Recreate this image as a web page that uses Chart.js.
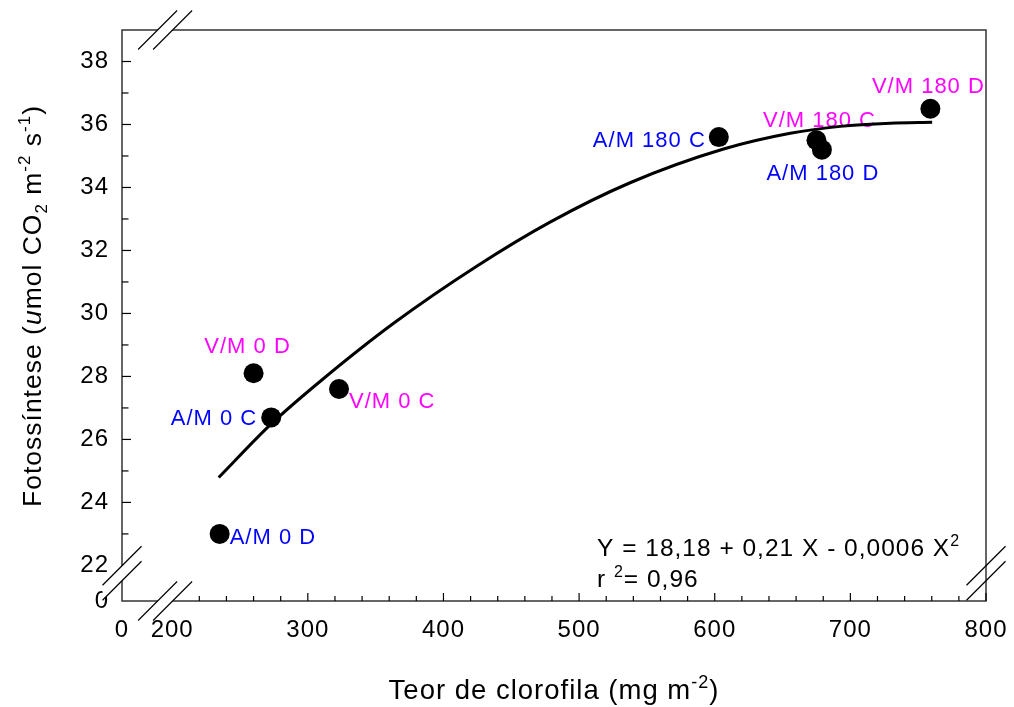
<!DOCTYPE html>
<html>
<head>
<meta charset="utf-8">
<script src="https://cdn.jsdelivr.net/npm/chart.js@4.4.0/dist/chart.umd.min.js"></script>
<style>
  html, body { margin: 0; padding: 0; background: #fff; }
</style>
</head>
<body>
<canvas id="chart" width="1014" height="707"></canvas>
<script>
// data points
const pointNames = ['A/M 0 D', 'V/M 0 D', 'A/M 0 C', 'V/M 0 C', 'A/M 180 C', 'V/M 180 C', 'A/M 180 D', 'V/M 180 D'];
const xValues = [235, 260, 273, 323, 603, 675, 679, 759];
const yValues = [23.0, 28.1, 26.7, 27.6, 35.6, 35.5, 35.2, 36.5];

// fitted curve
const curveX = [234.3, 273.2, 310.1, 363.0, 424.5, 478.6, 537.6, 606.5, 655.7, 692.6, 729.5, 760.3];
const curveY = [24.79, 26.50, 27.88, 29.68, 31.50, 32.90, 34.15, 35.22, 35.72, 35.94, 36.04, 36.07];

// ticks
const xMajorTicks = [200, 300, 400, 500, 600, 700, 800];
const yMajorTicks = [22, 24, 26, 28, 30, 32, 34, 36, 38];
const X_MINOR = 20;
const Y_MINOR = 1;

// broken axes: the left / bottom edge is labelled 0
const X_MIN = 163, X_MAX = 800;
const Y_MIN = 20.87, Y_MAX = 39;

const FONT = '"Liberation Sans", Arial, sans-serif';
const COLOR_A = '#0000ff';
const COLOR_V = '#ff00ff';

// label placement next to each point: dx, dy, align
const labelPlace = [
    [10, 4, 'left'], [-6, -26, 'center'], [-14, 2, 'right'], [10, 13, 'left'],
    [-13, 4, 'right'], [3, -19, 'center'], [1, 24, 'center'], [-2, -22, 'center']
];

function drawRich(ctx, parts, x, y, size, align) {
    const fontOf = p => `${p.italic ? 'italic ' : ''}${p.shift ? Math.round(size * 0.65) : size}px ${FONT}`;
    let total = 0;
    parts.forEach(p => { ctx.font = fontOf(p); total += ctx.measureText(p.t).width; });
    let cx = align === 'center' ? x - total / 2 : x;
    ctx.textAlign = 'left';
    parts.forEach(p => {
        ctx.font = fontOf(p);
        const dy = p.shift === 'sup' ? -size * 0.4 : p.shift === 'sub' ? size * 0.22 : 0;
        ctx.fillText(p.t, cx, y + dy);
        cx += ctx.measureText(p.t).width;
    });
}

function breakMark(ctx, cx, cy, horizontal, fill) {
    const h = 19.5, g = 7.5;
    const c1 = horizontal ? [cx - g, cy] : [cx, cy - g];
    const c2 = horizontal ? [cx + g, cy] : [cx, cy + g];
    if (fill) {
        ctx.fillStyle = '#fff';
        ctx.beginPath();
        ctx.moveTo(c1[0] - h, c1[1] + h);
        ctx.lineTo(c1[0] + h, c1[1] - h);
        ctx.lineTo(c2[0] + h, c2[1] - h);
        ctx.lineTo(c2[0] - h, c2[1] + h);
        ctx.closePath();
        ctx.fill();
    }
    ctx.strokeStyle = '#000';
    ctx.lineWidth = 1.2;
    [c1, c2].forEach(c => {
        ctx.beginPath();
        ctx.moveTo(c[0] - h, c[1] + h);
        ctx.lineTo(c[0] + h, c[1] - h);
        ctx.stroke();
    });
}

const decor = {
    id: 'decor',
    beforeDraw(chart) {
        chart.ctx.letterSpacing = '1px';
    },
    beforeDatasetsDraw(chart) {
        const ctx = chart.ctx;
        const xs = chart.scales.x, ys = chart.scales.y;
        ctx.save();
        ctx.font = `22px ${FONT}`;
        ctx.textBaseline = 'middle';
        pointNames.forEach((name, i) => {
            const [dx, dy, align] = labelPlace[i];
            ctx.fillStyle = name.startsWith('A/M') ? COLOR_A : COLOR_V;
            ctx.textAlign = align;
            ctx.fillText(name, xs.getPixelForValue(xValues[i]) + dx, ys.getPixelForValue(yValues[i]) + dy);
        });
        ctx.restore();
    },
    afterDraw(chart) {
        const ctx = chart.ctx;
        const a = chart.chartArea;
        const xs = chart.scales.x, ys = chart.scales.y;
        ctx.save();

        // frame
        ctx.strokeStyle = '#333';
        ctx.lineWidth = 1.5;
        ctx.strokeRect(a.left, a.top, a.right - a.left, a.bottom - a.top);

        // inward ticks
        ctx.strokeStyle = '#000';
        ctx.lineWidth = 1.2;
        xs.ticks.forEach(t => {
            if (t.value === X_MIN) return;
            const px = xs.getPixelForValue(t.value);
            const len = xMajorTicks.includes(t.value) ? 8 : 5;
            ctx.beginPath();
            ctx.moveTo(px, a.bottom);
            ctx.lineTo(px, a.bottom - len);
            ctx.stroke();
        });
        ys.ticks.forEach(t => {
            if (t.value === Y_MIN) return;
            const py = ys.getPixelForValue(t.value);
            const len = yMajorTicks.includes(t.value) ? 9 : 6.5;
            ctx.beginPath();
            ctx.moveTo(a.left, py);
            ctx.lineTo(a.left + len, py);
            ctx.stroke();
        });

        // axis breaks
        const xb = (a.left + xs.getPixelForValue(200)) / 2 + 18;
        const yb = ys.getPixelForValue(21.75);
        breakMark(ctx, xb, a.bottom, true, true);
        breakMark(ctx, xb, a.top, true, true);
        breakMark(ctx, a.left, yb, false, true);
        breakMark(ctx, a.right, yb, false, false);

        // titles
        ctx.fillStyle = '#000';
        ctx.textBaseline = 'alphabetic';
        drawRich(ctx, [{ t: 'Teor de clorofila (mg m' }, { t: '-2', shift: 'sup' }, { t: ')' }],
            (a.left + a.right) / 2, 699, 27.5, 'center');

        ctx.save();
        ctx.translate(41, 306);
        ctx.rotate(-Math.PI / 2);
        drawRich(ctx, [
            { t: 'Fotossíntese (' }, { t: 'u', italic: true }, { t: 'mol CO' }, { t: '2', shift: 'sub' },
            { t: ' m' }, { t: '-2', shift: 'sup' }, { t: ' s' }, { t: '-1', shift: 'sup' }, { t: ')' }
        ], 0, 0, 26.5, 'center');
        ctx.restore();

        // regression equation
        drawRich(ctx, [{ t: 'Y = 18,18 + 0,21 X - 0,0006 X' }, { t: '2', shift: 'sup' }], 597, 556, 24.5, 'left');
        drawRich(ctx, [{ t: 'r ' }, { t: '2', shift: 'sup' }, { t: '= 0,96' }], 597, 587, 24.5, 'left');

        ctx.restore();
    }
};

new Chart(document.getElementById('chart'), {
    type: 'scatter',
    data: {
        datasets: [{
            data: xValues.map((x, i) => ({ x: x, y: yValues[i] })),
            backgroundColor: '#000',
            borderWidth: 0,
            pointRadius: 10,
            order: 1
        }, {
            data: curveX.map((x, i) => ({ x: x, y: curveY[i] })),
            showLine: true,
            borderColor: '#000',
            borderWidth: 3,
            pointRadius: 0,
            cubicInterpolationMode: 'monotone',
            order: 2
        }]
    },
    options: {
        responsive: false,
        animation: false,
        events: [],
        layout: { padding: { top: 30, right: 28, left: 0, bottom: 0 } },
        plugins: { legend: { display: false }, tooltip: { enabled: false } },
        scales: {
            x: {
                type: 'linear',
                min: X_MIN,
                max: X_MAX,
                grid: { display: false, drawTicks: false },
                border: { display: false },
                ticks: {
                    color: '#000',
                    font: { family: FONT, size: 24 },
                    padding: 15,
                    autoSkip: false,
                    maxRotation: 0,
                    callback: v => v === X_MIN ? '0' : (xMajorTicks.includes(v) ? String(v) : '')
                },
                afterBuildTicks(scale) {
                    const t = [{ value: X_MIN }];
                    for (let v = xMajorTicks[0]; v <= X_MAX; v += X_MINOR) t.push({ value: v });
                    scale.ticks = t;
                },
                afterFit(scale) {
                    scale.height = 106;
                    scale.paddingLeft = 0;
                    scale.paddingRight = 0;
                }
            },
            y: {
                type: 'linear',
                min: Y_MIN,
                max: Y_MAX,
                grid: { display: false, drawTicks: false },
                border: { display: false },
                ticks: {
                    color: '#000',
                    font: { family: FONT, size: 24 },
                    padding: 13,
                    autoSkip: false,
                    callback: v => v === Y_MIN ? '0' : (yMajorTicks.includes(v) ? String(v) : '')
                },
                afterBuildTicks(scale) {
                    const t = [{ value: Y_MIN }];
                    for (let v = yMajorTicks[0]; v < Y_MAX; v += Y_MINOR) t.push({ value: v });
                    scale.ticks = t;
                },
                afterFit(scale) {
                    scale.width = 122;
                    scale.paddingTop = 0;
                    scale.paddingBottom = 0;
                }
            }
        }
    },
    plugins: [decor]
});
</script>
</body>
</html>
